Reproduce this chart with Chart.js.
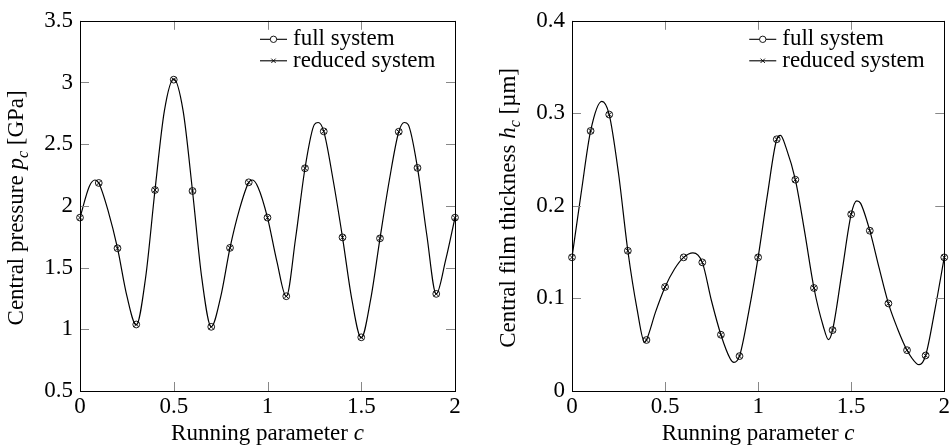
<!DOCTYPE html>
<html>
<head>
<meta charset="utf-8">
<script src="https://cdn.jsdelivr.net/npm/chart.js@4.4.1/dist/chart.umd.min.js"></script>
<style>
	html, body { margin: 0; padding: 0; background: #fff; }
	#wrap { position: relative; width: 952px; height: 448px; }
	canvas { position: absolute; top: 0; }
	#left { left: 0; }
	#right { left: 476px; }
</style>
</head>
<body>
<div id="wrap">
	<canvas id="left" width="476" height="448"></canvas>
	<canvas id="right" width="476" height="448"></canvas>
</div>
<script>
/* global Chart */

var FONT = '"Liberation Serif", "Times New Roman", serif';
var FONT_SIZE = 23;

// marker positions (running parameter c)
var markerC = [0, 0.1, 0.2, 0.3, 0.4, 0.5, 0.6, 0.7, 0.8, 0.9, 1.0, 1.1, 1.2, 1.3, 1.4, 1.5, 1.6, 1.7, 1.8, 1.9, 2.0];
var xTicks = [0, 0.5, 1, 1.5, 2];

// central pressure [GPa]
var pressureFull = [1.905, 2.186, 1.657, 1.039, 2.129, 3.023, 2.121, 1.02, 1.66, 2.191, 1.905, 1.268, 2.305, 2.604, 1.745, 0.935, 1.737, 2.601, 2.308, 1.287, 1.905];
var pressureReduced = [1.905, 2.186, 1.657, 1.039, 2.129, 3.023, 2.121, 1.02, 1.66, 2.191, 1.905, 1.268, 2.305, 2.604, 1.745, 0.935, 1.737, 2.601, 2.308, 1.287, 1.905];
var pressureCurveC = [0, 0.05, 0.08, 0.1, 0.15, 0.2, 0.25, 0.3, 0.35, 0.4, 0.45, 0.5, 0.55, 0.6, 0.65, 0.7, 0.75, 0.8, 0.85, 0.9, 0.92, 0.95, 1.0, 1.05, 1.1, 1.15, 1.2, 1.25, 1.27, 1.3, 1.35, 1.4, 1.45, 1.5, 1.55, 1.6, 1.65, 1.7, 1.73, 1.75, 1.8, 1.85, 1.9, 1.95, 2.0];
var pressureCurve = [1.905, 2.16, 2.21, 2.186, 1.96, 1.657, 1.27, 1.035, 1.42, 2.129, 2.77, 3.03, 2.77, 2.121, 1.41, 1.02, 1.26, 1.66, 1.97, 2.191, 2.21, 2.15, 1.905, 1.55, 1.265, 1.74, 2.305, 2.66, 2.676, 2.604, 2.21, 1.745, 1.24, 0.93, 1.24, 1.737, 2.21, 2.601, 2.676, 2.66, 2.308, 1.76, 1.285, 1.56, 1.905];
var pressureTicks = [0.5, 1, 1.5, 2, 2.5, 3, 3.5];

// central film thickness [um]
var filmFull = [0.1444, 0.281, 0.2987, 0.1515, 0.0551, 0.1124, 0.1444, 0.139, 0.0608, 0.0377, 0.1444, 0.272, 0.2283, 0.1113, 0.0658, 0.191, 0.1732, 0.0946, 0.0441, 0.0384, 0.1444];
var filmReduced = [0.1444, 0.281, 0.2987, 0.1515, 0.0551, 0.1124, 0.1444, 0.139, 0.0608, 0.0377, 0.1444, 0.272, 0.2283, 0.1113, 0.0658, 0.191, 0.1732, 0.0946, 0.0441, 0.0384, 0.1444];
var filmCurveC = [0, 0.05, 0.1, 0.16, 0.2, 0.25, 0.3, 0.35, 0.39, 0.4, 0.45, 0.5, 0.55, 0.6, 0.65, 0.7, 0.75, 0.8, 0.85, 0.87, 0.9, 0.95, 1.0, 1.05, 1.1, 1.12, 1.15, 1.2, 1.25, 1.3, 1.35, 1.378, 1.4, 1.45, 1.5, 1.53, 1.55, 1.6, 1.65, 1.7, 1.75, 1.8, 1.85, 1.865, 1.9, 1.95, 2.0];
var filmCurve = [0.1444, 0.215, 0.281, 0.313, 0.2987, 0.235, 0.1515, 0.088, 0.0526, 0.0551, 0.086, 0.1124, 0.1316, 0.1444, 0.1493, 0.139, 0.097, 0.0608, 0.0349, 0.031, 0.0377, 0.086, 0.1444, 0.212, 0.272, 0.2762, 0.263, 0.2283, 0.172, 0.1113, 0.07, 0.0555, 0.0658, 0.128, 0.191, 0.2055, 0.203, 0.1732, 0.133, 0.0946, 0.0668, 0.0441, 0.0299, 0.0284, 0.0384, 0.088, 0.1444];
var filmTicks = [0, 0.1, 0.2, 0.3, 0.4];

var legendLabels = ['full system', 'reduced system'];

function zip(xs, ys){
	return xs.map(function(x, i){ return { x: x, y: ys[i] }; });
}

function fmt(v){
	return String(Math.round(v * 1000) / 1000);
}

function fontFor(part, size){
	return (part.it ? 'italic ' : '') + (part.sub ? Math.round(size * 0.7) : size) +'px '+ FONT;
}

// mixed upright / italic / subscript text, centred on (x, y) baseline
function drawRich(ctx, parts, x, y, rotate){
	var total = 0;

	ctx.save();
	ctx.translate(x, y);
	if(rotate) ctx.rotate(-Math.PI / 2);

	parts.forEach(function(p){
		ctx.font = fontFor(p, FONT_SIZE);
		p.w = ctx.measureText(p.t).width;
		total += p.w;
	});

	var cx = -total / 2;
	ctx.fillStyle = '#000';
	ctx.textBaseline = 'alphabetic';
	ctx.textAlign = 'left';

	parts.forEach(function(p){
		ctx.font = fontFor(p, FONT_SIZE);
		ctx.fillText(p.t, cx, p.sub ? 5 : 0);
		cx += p.w;
	});

	ctx.restore();
}

function texPlugin(cfg){
	return {
		id: 'tex',
		afterDraw: function(chart){
			var ctx = chart.ctx, area = chart.chartArea;
			var xs = chart.scales.x, ys = chart.scales.y;

			ctx.save();

			// inward ticks on all four sides
			ctx.strokeStyle = '#888';
			ctx.lineWidth = 1;
			ctx.beginPath();
			xTicks.forEach(function(t){
				var px = Math.round(xs.getPixelForValue(t)) + 0.5;
				ctx.moveTo(px, area.bottom); ctx.lineTo(px, area.bottom - 9);
				ctx.moveTo(px, area.top); ctx.lineTo(px, area.top + 9);
			});
			cfg.yTicks.forEach(function(t){
				var py = Math.round(ys.getPixelForValue(t)) + 0.5;
				ctx.moveTo(area.left, py); ctx.lineTo(area.left + 9, py);
				ctx.moveTo(area.right, py); ctx.lineTo(area.right - 9, py);
			});
			ctx.stroke();

			// frame
			ctx.strokeStyle = '#000';
			ctx.strokeRect(Math.round(area.left) + 0.5, Math.round(area.top) + 0.5, Math.round(area.right - area.left), Math.round(area.bottom - area.top));

			// axis titles
			drawRich(ctx, [{ t: 'Running parameter ' }, { t: 'c', it: true }], (area.left + area.right) / 2, 440, false);
			drawRich(ctx, cfg.yTitle, cfg.yTitleX, (area.top + area.bottom) / 2 + 2, true);

			// legend
			var tx = area.right - 162;
			var rows = [45, 66.5];
			ctx.font = FONT_SIZE +'px '+ FONT;
			ctx.textBaseline = 'alphabetic';
			ctx.textAlign = 'left';

			rows.forEach(function(base, i){
				var ly = base - 5.7, mx = tx - 19.5;

				ctx.strokeStyle = '#000';
				ctx.lineWidth = 1.1;
				ctx.beginPath();
				ctx.moveTo(tx - 33, ly); ctx.lineTo(tx - 6, ly);
				ctx.stroke();

				ctx.lineWidth = 0.9;
				ctx.beginPath();
				if(i === 0){
					ctx.fillStyle = '#fff';
					ctx.arc(mx, ly, 3.2, 0, Math.PI * 2);
					ctx.fill();
				}
				else {
					ctx.moveTo(mx - 2.2, ly - 2.2); ctx.lineTo(mx + 2.2, ly + 2.2);
					ctx.moveTo(mx - 2.2, ly + 2.2); ctx.lineTo(mx + 2.2, ly - 2.2);
				}
				ctx.stroke();

				ctx.fillStyle = '#000';
				ctx.fillText(legendLabels[i], tx, base);
			});

			ctx.restore();
		}
	};
}

function makeChart(id, cfg){
	return new Chart(document.getElementById(id), {
		type: 'line',
		data: {
			datasets: [
				{
					label: 'curve',
					data: zip(cfg.curveC, cfg.curve),
					borderColor: '#000',
					borderWidth: 1.2,
					pointRadius: 0,
					cubicInterpolationMode: 'monotone',
					fill: false
				},
				{
					label: legendLabels[0],
					data: zip(markerC, cfg.full),
					showLine: false,
					clip: false,
					pointStyle: 'circle',
					pointRadius: 3.4,
					pointBorderWidth: 0.9,
					pointBorderColor: '#000',
					pointBackgroundColor: 'rgba(0,0,0,0)'
				},
				{
					label: legendLabels[1],
					data: zip(markerC, cfg.reduced),
					showLine: false,
					clip: false,
					pointStyle: 'crossRot',
					pointRadius: 3.4,
					pointBorderWidth: 0.9,
					pointBorderColor: '#000'
				}
			]
		},
		options: {
			responsive: false,
			animation: false,
			devicePixelRatio: 1,
			events: [],
			layout: { padding: { left: 0, right: cfg.padRight, top: 16, bottom: 0 } },
			plugins: { legend: { display: false }, tooltip: { enabled: false } },
			scales: {
				x: {
					type: 'linear', min: 0, max: 2,
					grid: { display: false, drawTicks: false },
					border: { display: false },
					ticks: { stepSize: 0.5, padding: 2, color: '#000', maxRotation: 0, autoSkip: false, font: { family: FONT, size: FONT_SIZE }, callback: fmt },
					afterFit: function(s){ s.height = 57; }
				},
				y: {
					type: 'linear', min: cfg.yTicks[0], max: cfg.yTicks[cfg.yTicks.length - 1],
					grid: { display: false, drawTicks: false },
					border: { display: false },
					ticks: { stepSize: cfg.yTicks[1] - cfg.yTicks[0], padding: 7, color: '#000', autoSkip: false, font: { family: FONT, size: FONT_SIZE }, callback: fmt },
					afterFit: function(s){ s.width = cfg.yWidth; }
				}
			}
		},
		plugins: [texPlugin(cfg)]
	});
}

makeChart('left', {
	curveC: pressureCurveC, curve: pressureCurve,
	full: pressureFull, reduced: pressureReduced,
	yTicks: pressureTicks, yWidth: 80, padRight: 21, yTitleX: 23,
	yTitle: [{ t: 'Central pressure ' }, { t: 'p', it: true }, { t: 'c', it: true, sub: true }, { t: ' [GPa]' }]
});

makeChart('right', {
	curveC: filmCurveC, curve: filmCurve,
	full: filmFull, reduced: filmReduced,
	yTicks: filmTicks, yWidth: 96, padRight: 6, yTitleX: 39,
	yTitle: [{ t: 'Central film thickness ' }, { t: 'h', it: true }, { t: 'c', it: true, sub: true }, { t: ' [\u00b5m]' }]
});
</script>
</body>
</html>
